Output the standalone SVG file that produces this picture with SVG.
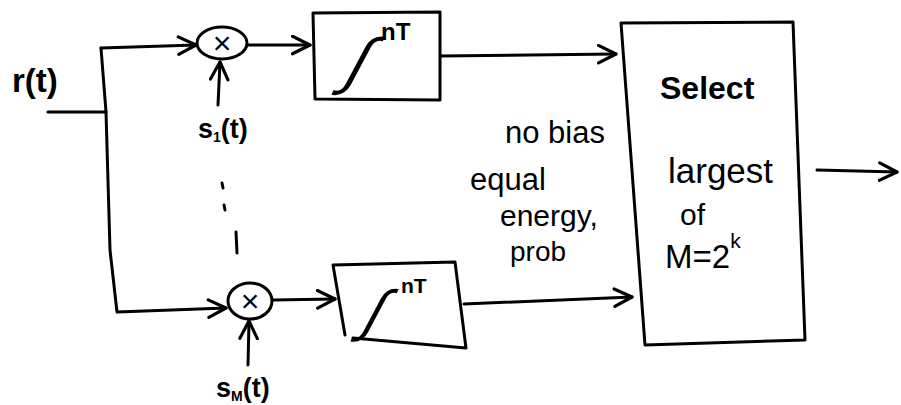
<svg xmlns="http://www.w3.org/2000/svg" width="901" height="405" viewBox="0 0 901 405">
  <style>
    .ln { fill: none; stroke: #000; stroke-width: 3; stroke-linecap: round; stroke-linejoin: round; }
    .box { fill: #fff; stroke: #000; stroke-width: 3; stroke-linejoin: round; stroke-linecap: round; }
    .t { font-family: "Liberation Sans", Arial, sans-serif; fill: #000; }
    .hw { font-family: "Liberation Sans", Arial, sans-serif; fill: #000; font-weight: bold; }
  </style>
  <defs>
    <marker id="arr" viewBox="0 0 12 12" refX="11" refY="6" markerWidth="7" markerHeight="7" orient="auto" markerUnits="strokeWidth">
      <path d="M1,1 L11,6 L1,11" fill="none" stroke="#000" stroke-width="1.8" stroke-linecap="round" stroke-linejoin="round"/>
    </marker>
  </defs>
  <rect width="901" height="405" fill="#fff"/>

  <!-- signal wiring -->
  <g id="connectors">
    <path class="ln" d="M48,112 L106,112"/>
    <path class="ln" d="M101,48 L106,112 L110,250 L117,312 L226,308" marker-end="url(#arr)"/>
    <path class="ln" d="M101,48 L196,45" marker-end="url(#arr)"/>
    <path class="ln" d="M247,45 L310,45" marker-end="url(#arr)"/>
    <path class="ln" d="M218,105 L220,62" marker-end="url(#arr)"/>
    <path class="ln" d="M273,300 L335,299" marker-end="url(#arr)"/>
    <path class="ln" d="M248,365 L249,321" marker-end="url(#arr)"/>
    <path class="ln" d="M440,56 L616,54" marker-end="url(#arr)"/>
    <path class="ln" d="M464,304 L632,297" marker-end="url(#arr)"/>
    <path class="ln" d="M817,170 L897,172" marker-end="url(#arr)"/>
    <!-- ellipsis between branches -->
    <path class="ln" d="M222,183 L223,188 M224,205 L225,210 M236,232 L237,253" stroke-width="2.5"/>
  </g>

  <g id="input-label">
    <text class="hw" x="12" y="92" font-size="33">r(t)</text>
  </g>

  <g id="mult-1">
    <ellipse class="ln" cx="222" cy="43" rx="25" ry="16"/>
    <text class="t" x="222" y="54" font-size="32" text-anchor="middle">×</text>
    <text class="hw" x="198" y="138" font-size="27">s<tspan font-size="14" dy="4">1</tspan><tspan dy="-4">(t)</tspan></text>
  </g>

  <g id="integrator-1">
    <path class="box" d="M313,13 L440,12 L440,100 L315,99 Z"/>
    <text class="t" transform="translate(341,82) skewX(-28)" font-size="62">∫</text>
    <text class="hw" x="381" y="40" font-size="24">nT</text>
  </g>

  <g id="mult-M">
    <ellipse class="ln" cx="250" cy="301" rx="22" ry="18"/>
    <text class="t" x="250" y="312" font-size="32" text-anchor="middle">×</text>
    <text class="hw" x="216" y="397" font-size="27">s<tspan font-size="14" dy="4">M</tspan><tspan dy="-4">(t)</tspan></text>
  </g>

  <g id="integrator-M">
    <path class="box" d="M345,335 L333,265 L455,262 L466,348 L353,338"/>
    <text class="t" transform="translate(359,330) skewX(-28)" font-size="56">∫</text>
    <text class="hw" x="401" y="293" font-size="21">nT</text>
  </g>

  <g id="note">
    <text class="t" x="505" y="143" font-size="31">no bias</text>
    <text class="t" x="470" y="190" font-size="31">equal</text>
    <text class="t" x="500" y="226" font-size="30">energy,</text>
    <text class="t" x="510" y="261" font-size="28">prob</text>
  </g>

  <g id="selector">
    <path class="box" d="M621,23 L793,22 L805,340 L645,345 Z"/>
    <text class="hw" x="660" y="99" font-size="32">Select</text>
    <text class="t" x="668" y="183" font-size="35">largest</text>
    <text class="t" x="680" y="225" font-size="30">of</text>
    <text class="t" x="665" y="268" font-size="33">M=2<tspan font-size="21" dy="-20">k</tspan></text>
  </g>
</svg>
